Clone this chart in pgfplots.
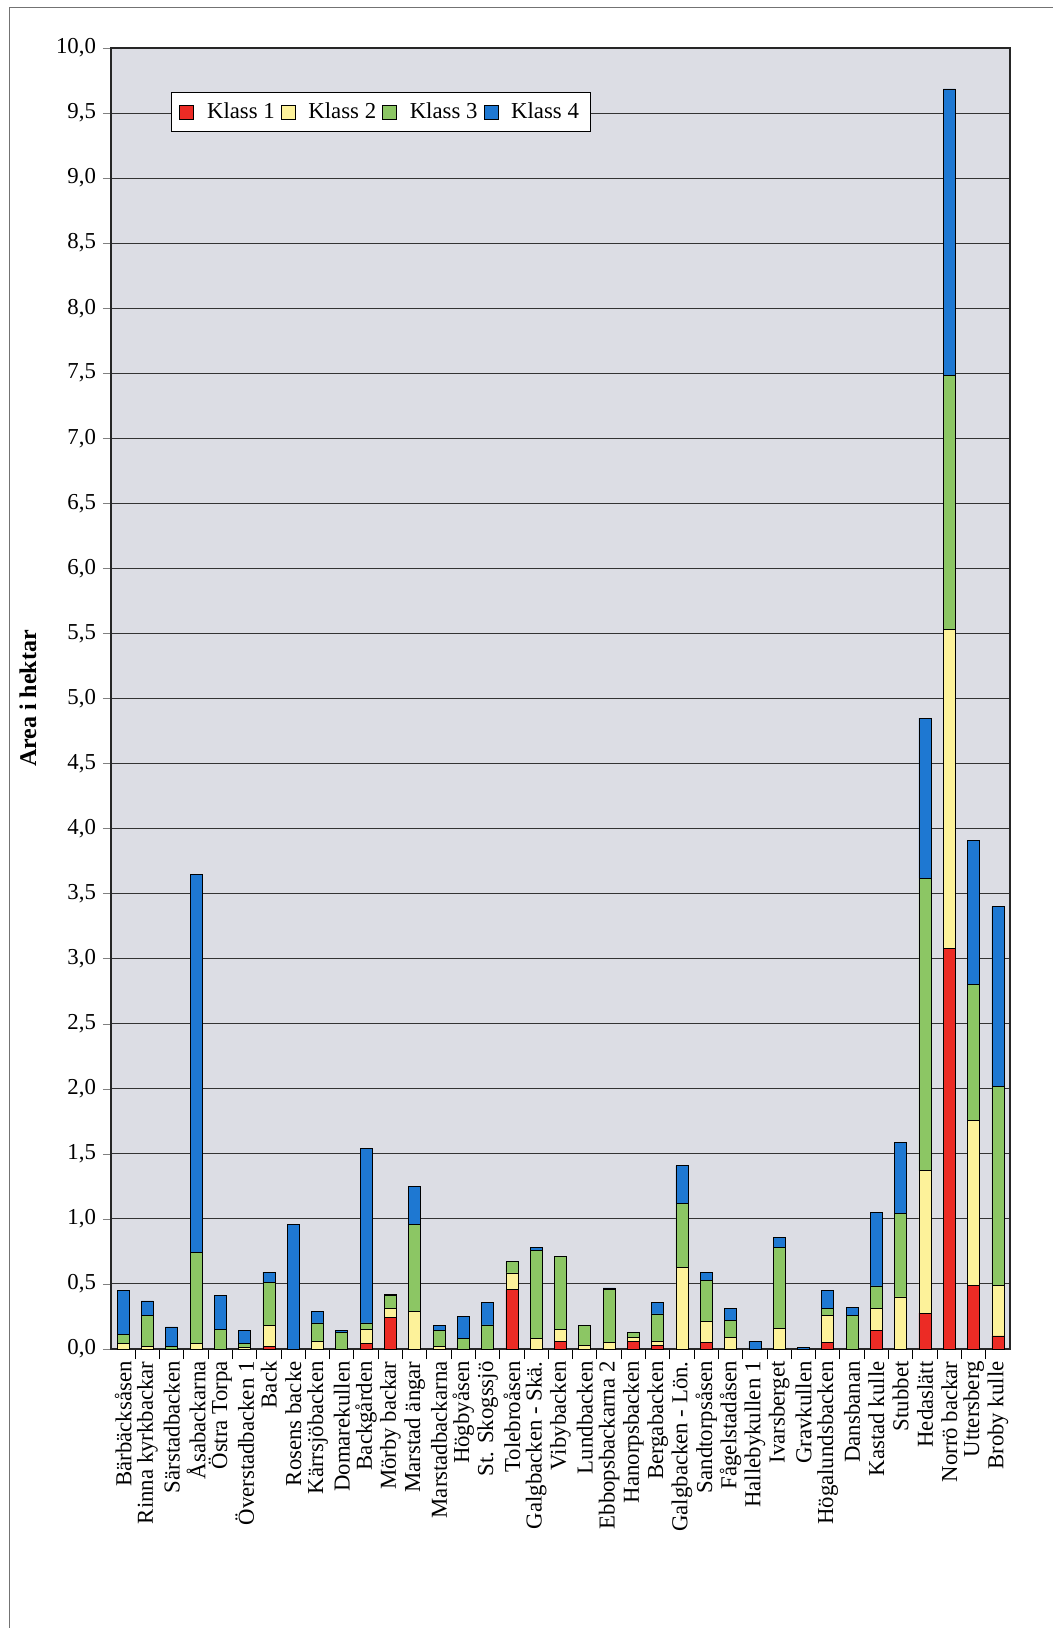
\documentclass[border=0pt]{standalone}
\usepackage{pgfplots}
\pgfplotsset{compat=1.18}
\usepackage{pgfplotstable}
\usepackage{fontspec}
\setmainfont{Liberation Serif}

\definecolor{klass1}{HTML}{EC2B25}
\definecolor{klass2}{HTML}{FDF29A}
\definecolor{klass3}{HTML}{8CC664}
\definecolor{klass4}{HTML}{1E78D2}
\definecolor{plotbg}{HTML}{DCDDE4}

% area in hectares per class, one row per site
\pgfplotstableread{
x  K1    K2    K3    K4
0  0     0.04  0.07  0.34
1  0     0.02  0.24  0.11
2  0     0     0.02  0.15
3  0     0.04  0.70  2.91
4  0     0     0.15  0.26
5  0     0.01  0.03  0.10
6  0.02  0.16  0.33  0.08
7  0     0     0     0.96
8  0     0.06  0.14  0.09
9  0     0     0.13  0.01
10 0.04  0.11  0.05  1.34
11 0.245 0.07  0.095 0.01
12 0     0.29  0.67  0.29
13 0     0.02  0.12  0.04
14 0     0     0.08  0.17
15 0     0     0.185 0.175
16 0.455 0.13  0.085 0
17 0     0.08  0.68  0.02
18 0.06  0.09  0.56  0
19 0     0.03  0.15  0
20 0     0.05  0.41  0.01
21 0.06  0.03  0.04  0
22 0.03  0.025 0.215 0.09
23 0     0.63  0.49  0.29
24 0.05  0.16  0.32  0.06
25 0     0.09  0.13  0.09
26 0     0     0     0.06
27 0     0.16  0.62  0.08
28 0     0     0     0.015
29 0.05  0.21  0.05  0.14
30 0     0     0.26  0.06
31 0.14  0.17  0.175 0.565
32 0     0.40  0.64  0.545
33 0.275 1.095 2.25  1.23
34 3.08  2.45  1.95  2.205
35 0.49  1.265 1.045 1.11
36 0.10  0.39  1.53  1.38
}\data

\begin{document}
\begin{tikzpicture}
\begin{axis}[
  name=ax,
  scale only axis,
  width=449.5pt, height=650.5pt,
  ybar stacked,
  bar width=6pt,
  ymin=0, ymax=10,
  xmin=-0.5, xmax=36.5,
  font=\fontsize{11.4}{13}\selectfont,
  ytick={0,0.5,1,1.5,2,2.5,3,3.5,4,4.5,5,5.5,6,6.5,7,7.5,8,8.5,9,9.5,10},
  /pgf/number format/assume math mode=true,
  yticklabel style={/pgf/number format/fixed, /pgf/number format/fixed zerofill,
    /pgf/number format/precision=1, /pgf/number format/use comma},
  xtick={0,...,36},
  xticklabels={Bärbäcksåsen, Rinna kyrkbackar, Särstadbacken, Åsabackarna, Östra Torpa,
    Överstadbacken 1, Back, Rosens backe, Kärrsjöbacken, Domarekullen, Backgården,
    Mörby backar, Marstad ängar, Marstadbackarna, Högbyåsen, St. Skogssjö, Tolebroåsen,
    Galgbacken - Skä., Vibybacken, Lundbacken, Ebbopsbackarna 2, Hanorpsbacken,
    Bergabacken, Galgbacken - Lön., Sandtorpsåsen, Fågelstadåsen, Hallebykullen 1,
    Ivarsberget, Gravkullen, Högalundsbacken, Dansbanan, Kastad kulle, Stubbet,
    Hedaslätt, Norrö backar, Uttersberg, Broby kulle},
  xticklabel style={rotate=90, anchor=east, inner sep=2pt},
  x tick style={draw=none},
  minor xtick={0.5,1.5,...,35.5},
  minor x tick style={draw=black, line width=0.5pt},
  minor tick length=5pt,
  major tick length=4pt,
  tick align=outside,
  tick pos=left,
  ymajorgrids,
  grid style={black!80, line width=0.5pt},
  axis line style={black!85, line width=0.6pt},
  axis background/.style={fill=plotbg},
  ylabel={\textbf{Area i hektar}},
  ylabel style={at={(axis description cs:-0.0923,0.5)}, anchor=center,
    font=\fontsize{12}{14}\selectfont},
  legend columns=4,
  legend style={at={(axis description cs:0.0667,0.966)}, anchor=north west,
    fill=white, draw=black, line width=0.5pt, inner xsep=4pt, inner ysep=3pt,
    /tikz/every even column/.append style={column sep=1pt},
    /tikz/every odd column/.append style={column sep=4.5pt},
    font=\fontsize{11.4}{13}\selectfont},
  legend image code/.code={\draw[#1, draw=black, line width=0.3pt] (0pt,-3.5pt) rectangle (7pt,3.5pt);},
]
\addplot[fill=klass1, draw=black, line width=0.35pt] table[x=x, y=K1]{\data};
\addplot[fill=klass2, draw=black, line width=0.35pt] table[x=x, y=K2]{\data};
\addplot[fill=klass3, draw=black, line width=0.35pt] table[x=x, y=K3]{\data};
\addplot[fill=klass4, draw=black, line width=0.35pt] table[x=x, y=K4]{\data};
\legend{Klass 1, Klass 2, Klass 3, Klass 4}
\end{axis}
\draw[black!55, line width=0.5pt] ([xshift=-50.5pt,yshift=-170pt]ax.south west)
  -- ([xshift=-50.5pt,yshift=20pt]ax.north west) -- ([xshift=40pt,yshift=20pt]ax.north east);
\pgfresetboundingbox
\path ([xshift=-55.5pt,yshift=-139.5pt]ax.south west) rectangle ([xshift=21.5pt,yshift=24pt]ax.north east);
\end{tikzpicture}
\end{document}
